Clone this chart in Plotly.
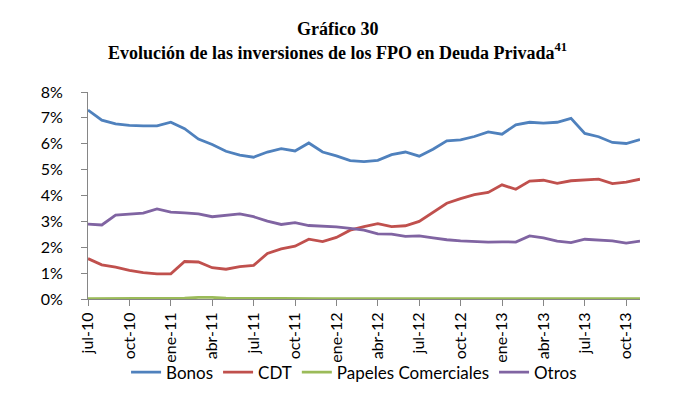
import plotly.graph_objects as go

months = ["jul-10","ago-10","sep-10","oct-10","nov-10","dic-10",
          "ene-11","feb-11","mar-11","abr-11","may-11","jun-11",
          "jul-11","ago-11","sep-11","oct-11","nov-11","dic-11",
          "ene-12","feb-12","mar-12","abr-12","may-12","jun-12",
          "jul-12","ago-12","sep-12","oct-12","nov-12","dic-12",
          "ene-13","feb-13","mar-13","abr-13","may-13","jun-13",
          "jul-13","ago-13","sep-13","oct-13","nov-13"]

bonos = [7.30,6.91,6.77,6.71,6.69,6.69,6.83,6.58,6.18,5.97,5.71,5.56,5.48,5.68,5.81,5.72,6.03,
         5.68,5.53,5.35,5.31,5.36,5.58,5.68,5.52,5.79,6.11,6.15,6.28,6.46,6.37,6.73,6.83,
         6.80,6.83,6.98,6.40,6.27,6.05,6.01,6.16]
cdt = [1.56,1.32,1.23,1.11,1.02,0.97,0.97,1.45,1.43,1.21,1.15,1.25,1.30,1.76,1.94,2.04,2.31,
       2.22,2.38,2.66,2.80,2.91,2.80,2.83,3.00,3.36,3.70,3.88,4.03,4.12,4.41,4.24,4.56,
       4.59,4.47,4.57,4.59,4.63,4.46,4.52,4.63]
papeles = [0.01,0.01,0.01,0.01,0.01,0.01,0.01,0.03,0.06,0.06,0.03,0.02,0.02,0.02,0.02,0.01,0.01,
           0.01,0.01,0.01,0.01,0.01,0.01,0.01,0.01,0.01,0.01,0.01,0.01,0.01,0.01,0.01,0.01,
           0.01,0.01,0.01,0.01,0.01,0.01,0.01,0.01]
otros = [2.89,2.86,3.24,3.28,3.32,3.48,3.36,3.33,3.29,3.18,3.24,3.29,3.18,3.01,2.88,2.95,2.84,
         2.82,2.79,2.73,2.66,2.52,2.51,2.42,2.44,2.36,2.29,2.25,2.22,2.20,2.21,2.20,2.44,
         2.36,2.24,2.18,2.31,2.29,2.25,2.16,2.24]

tick_labels = months[::3]
y_ticks = [0,1,2,3,4,5,6,7,8]
y_tick_text = [f"{v}%" for v in y_ticks]

series = [("Bonos", bonos, "#4F81BD"), ("CDT", cdt, "#C0504D"),
          ("Papeles Comerciales", papeles, "#9BBB59"), ("Otros", otros, "#8064A2")]

fig = go.Figure()
for name, vals, col in series:
    fig.add_trace(go.Scatter(x=months, y=vals, name=name, mode="lines",
                             line=dict(color=col, width=2.8)))

font_main = "Lato, Calibri, sans-serif"
title_font = dict(family="Liberation Serif, Times New Roman, serif", size=18, color="black")
fig.update_layout(
    width=674, height=397,
    paper_bgcolor="white", plot_bgcolor="white",
    margin=dict(l=80, r=42, t=84, b=106, autoexpand=False),
    font=dict(family=font_main, size=16, color="black"),
    showlegend=True,
    legend=dict(orientation="h", x=0.482, xanchor="center", y=-0.355, yanchor="middle",
                font=dict(family=font_main, size=17, color="black"),
                itemwidth=30, tracegroupgap=0, bgcolor="rgba(0,0,0,0)"),
    annotations=[
        dict(text="<b>Gráfico 30</b>", x=0.5, xref="paper", y=1.304, yref="paper",
             xanchor="center", yanchor="middle", showarrow=False, font=title_font,
             xshift=-27),
        dict(text="<b>Evolución de las inversiones de los FPO en Deuda Privada<sup>41</sup></b>",
             x=0.5, xref="paper", y=1.198, yref="paper",
             xanchor="center", yanchor="middle", showarrow=False, font=title_font,
             xshift=-27),
    ],
)
fig.update_xaxes(type="category", range=[0, 40], tickmode="array",
                 tickvals=tick_labels, ticktext=tick_labels, tickangle=-90,
                 showline=True, linecolor="#868686", linewidth=1,
                 ticks="outside", ticklen=6, tickcolor="#868686",
                 showgrid=False, zeroline=False, automargin=False,
                 tickfont=dict(family=font_main, size=16, color="black"))
fig.update_yaxes(range=[0, 8], tickmode="array", tickvals=y_ticks, ticktext=y_tick_text,
                 showline=True, linecolor="#868686", linewidth=1,
                 ticks="outside", ticklen=6, tickcolor="#868686",
                 ticklabelstandoff=15,
                 showgrid=False, zeroline=False, automargin=False,
                 tickfont=dict(family=font_main, size=16, color="black"))

fig.write_html("out.html")
